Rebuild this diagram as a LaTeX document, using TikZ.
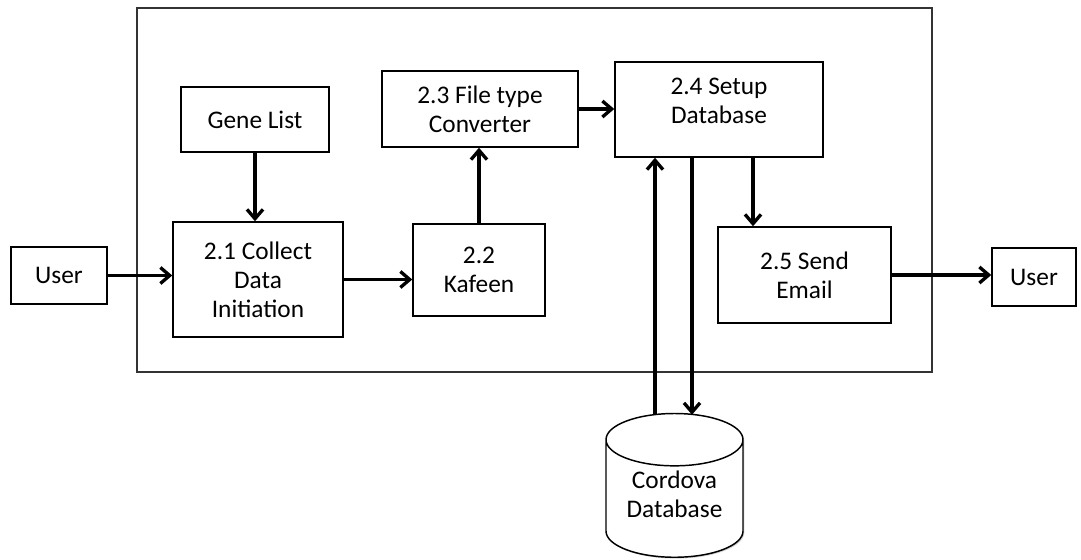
\documentclass[tikz,border=0pt]{standalone}
\usepackage{fontspec}
\setmainfont{Carlito}
\usetikzlibrary{arrows.meta,calc,shapes.geometric,shadows}
\begin{document}
\begin{tikzpicture}[x=0.75pt,y=0.75pt,>={Straight Barb[length=7pt,width=12pt]},
  box/.style={draw,line width=1.1pt,fill=white,align=center,font=\fontsize{19}{21.75}\selectfont,
    drop shadow={shadow xshift=1pt,shadow yshift=-1pt,opacity=.35}},
  flow/.style={->,line width=2.5pt}]
\useasboundingbox (0,0) rectangle (1081,560);
\draw[line width=1.1pt,black!80] (137,552) rectangle (932,188);
\node[box,minimum width=111pt,minimum height=48.75pt] (gene) at (255,440.5) {Gene List};
\node[box,minimum width=147pt,minimum height=57pt] (conv) at (480,451) {2.3 File type\\Converter};
\node[box,minimum width=156pt,minimum height=71.25pt] (setup) at (719,450.5) {2.4 Setup\\Database\\[-9pt]\mbox{}};
\node[box,minimum width=129.75pt,minimum height=72pt] (email) at (804.5,285) {2.5 Send\\Email};
\node[box,minimum width=72pt,minimum height=42.75pt] (userL) at (59,284.5) {User};
\node[box,minimum width=127.5pt,minimum height=86.25pt] (collect) at (258,280.5) {2.1 Collect\\Data\\Initiation};
\node[box,minimum width=99pt,minimum height=69pt] (kafeen) at (479,290) {2.2\\Kafeen};
\node[box,minimum width=63pt,minimum height=43.5pt] (userR) at (1034,283) {User};
\node[box,drop shadow={opacity=0},cylinder,shape border rotate=90,aspect=0.5,minimum width=102.75pt,minimum height=102pt,anchor=south] (db) at (674.5,2) {Cordova\\Database\\[-8pt]\mbox{}};
% connector ends off the node centres
\coordinate (mail) at ($(setup.south)+(34,0)$);
\coordinate (dbup) at ($(db.north)+(-19.5,-2)$);
\coordinate (dbdown) at ($(db.north)+(17.5,-2)$);
\draw[flow] (userL.east) -- (userL.east -| collect.west);
\draw[flow] (gene.south) -- (gene.south |- collect.north);
\draw[flow] (collect.east) -- (collect.east -| kafeen.west);
\draw[flow] (kafeen.north) -- (kafeen.north |- conv.south);
\draw[flow] (conv.east) -- (conv.east -| setup.west);
\draw[flow] (mail) -- (mail |- email.north);
\draw[flow] (email.east) -- (email.east -| userR.west);
\draw[flow] (dbup) -- (dbup |- setup.south);
\draw[flow] (dbdown |- setup.south) -- (dbdown);
\end{tikzpicture}
\end{document}
